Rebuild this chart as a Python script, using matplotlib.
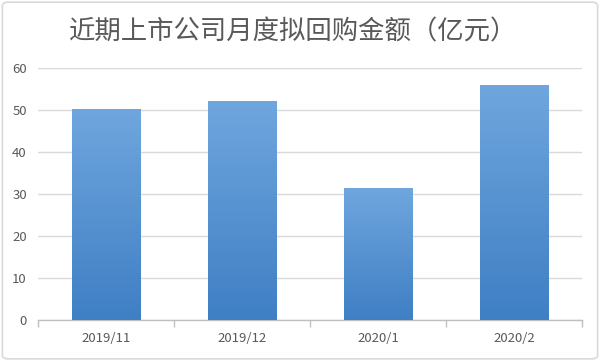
import matplotlib
matplotlib.use("Agg")
import matplotlib.pyplot as plt
import numpy as np
from matplotlib.colors import LinearSegmentedColormap
from matplotlib.patches import FancyBboxPatch

plt.rcParams['font.family'] = ['Noto Sans CJK SC', 'DejaVu Sans']

categories = ["2019/11", "2019/12", "2020/1", "2020/2"]
values = [50.2, 52.1, 31.4, 56.0]
yticks = [0, 10, 20, 30, 40, 50, 60]
title = "近期上市公司月度拟回购金额（亿元）"

fig = plt.figure(figsize=(6, 3.61), dpi=100)
fig.patch.set_facecolor("white")
border = FancyBboxPatch((0.004, 0.006), 0.992, 0.988, boxstyle="round,pad=0,rounding_size=0.01",
                        transform=fig.transFigure, facecolor="none", edgecolor="#d9d9d9", lw=1.2)
fig.patches.append(border)

ax = fig.add_axes([0.0633, 0.1136, 0.9067, 0.698])
x = np.arange(len(categories))
bars = ax.bar(x, values, width=0.5, color="#5b9bd5", zorder=2)

cmap = LinearSegmentedColormap.from_list("g", ["#3f7fc4", "#6fa6de"])
grad = np.linspace(0, 1, 256).reshape(-1, 1)
for b in bars:
    x0, y0 = b.get_x(), b.get_y()
    w, h = b.get_width(), b.get_height()
    im = ax.imshow(grad, cmap=cmap, origin="lower", aspect="auto",
                   extent=[x0, x0 + w, y0, y0 + h], zorder=3)
    im.set_clip_path(b)

ax.set_xlim(-0.5, len(categories) - 0.5)
ax.set_ylim(0, 60)
ax.set_yticks(yticks)
ax.set_yticklabels([str(t) for t in yticks])
ax.set_xticks(x)
ax.set_xticklabels(categories)
ax.set_xticks(np.arange(-0.5, len(categories), 1.0), minor=True)
ax.tick_params(axis="x", which="major", length=0, pad=9, labelsize=9.5, labelcolor="#595959")
ax.tick_params(axis="x", which="minor", length=5, color="#bfbfbf", width=1)
ax.tick_params(axis="y", length=0, pad=8, labelsize=9.5, labelcolor="#595959")
ax.grid(axis="y", color="#d9d9d9", lw=1, zorder=0)
ax.set_axisbelow(True)
for s in ["top", "right", "left"]:
    ax.spines[s].set_visible(False)
ax.spines["bottom"].set_color("#bfbfbf")
ax.spines["bottom"].set_linewidth(1)

fig.text(0.488, 0.912, title, ha="center", va="center", fontsize=19, color="#595959")

fig.savefig("out.png", dpi=100)
